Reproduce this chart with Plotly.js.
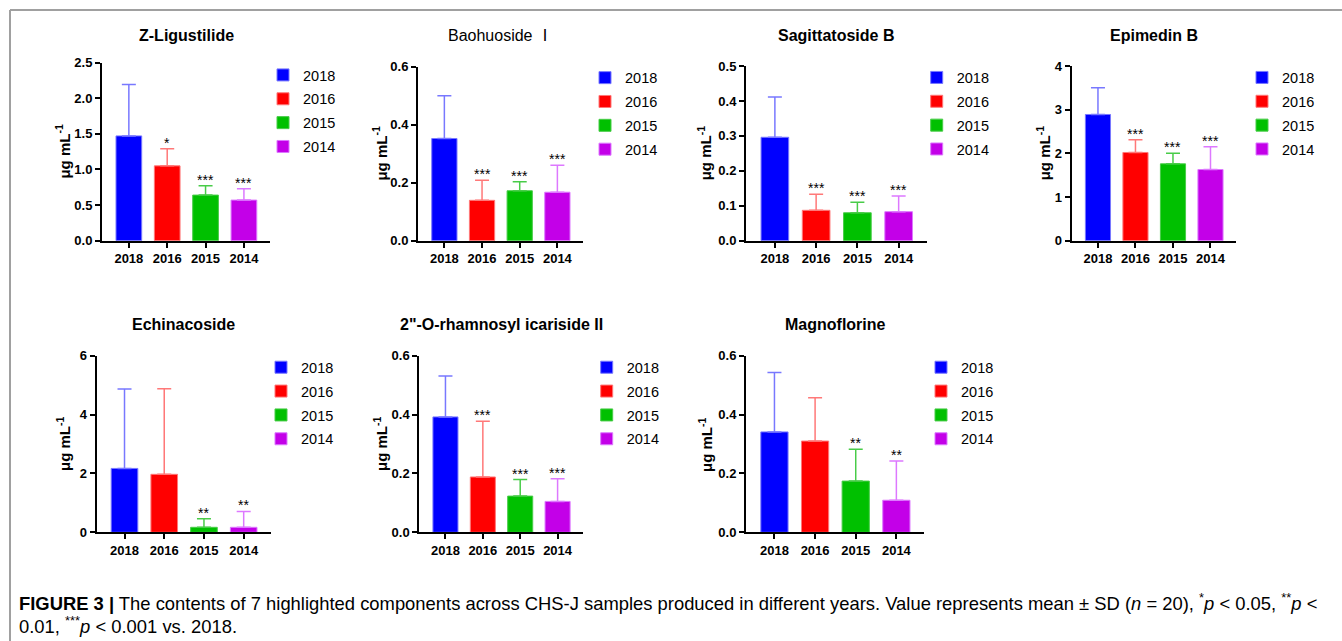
<!DOCTYPE html>
<html><head><meta charset="utf-8">
<script src="https://cdn.plot.ly/plotly-3.0.1.min.js"></script>
<style>html,body{margin:0;padding:0;background:#fff;}#chart{width:1342px;height:641px;}</style>
</head><body><div id="chart"></div>
<script>
// ---------------- data ----------------
const years = ['2018', '2016', '2015', '2014'];
const panelTitles = ['Z-Ligustilide', 'Baohuoside \u2160', 'Sagittatoside B', 'Epimedin B',
  'Echinacoside', '2"-O-rhamnosyl icariside II', 'Magnoflorine'];

const zLigustilideMean = [1.47, 1.05, 0.64, 0.57];
const zLigustilideSD   = [0.72, 0.24, 0.13, 0.16];
const zLigustilideSig  = ['', '*', '***', '***'];

const baohuosideMean = [0.352, 0.139, 0.172, 0.167];
const baohuosideSD   = [0.147, 0.069, 0.031, 0.093];
const baohuosideSig  = ['', '***', '***', '***'];

const sagittatosideMean = [0.296, 0.087, 0.080, 0.083];
const sagittatosideSD   = [0.115, 0.046, 0.030, 0.045];
const sagittatosideSig  = ['', '***', '***', '***'];

const epimedinMean = [2.89, 2.02, 1.76, 1.63];
const epimedinSD   = [0.61, 0.29, 0.24, 0.52];
const epimedinSig  = ['', '***', '***', '***'];

const echinacosideMean = [2.17, 1.97, 0.17, 0.17];
const echinacosideSD   = [2.70, 2.91, 0.29, 0.54];
const echinacosideSig  = ['', '', '**', '**'];

const icarisideMean = [0.392, 0.188, 0.123, 0.105];
const icarisideSD   = [0.139, 0.189, 0.056, 0.077];
const icarisideSig  = ['', '***', '***', '***'];

const magnoflorineMean = [0.341, 0.310, 0.174, 0.109];
const magnoflorineSD   = [0.202, 0.147, 0.108, 0.133];
const magnoflorineSig  = ['', '', '**', '**'];

const yMax  = [2.5, 0.6, 0.5, 4, 6, 0.6, 0.6];
const yStep = [0.5, 0.2, 0.1, 1, 2, 0.2, 0.2];
const yFmt  = ['.1f', '.1f', '.1f', 'd', 'd', '.1f', '.1f'];

const yTitle = 'μg mL<sup>-1</sup>';
const captionLine1 = '<b>FIGURE 3 |</b> The contents of 7 highlighted components across CHS-J samples produced in different years. Value represents mean ± SD (<i>n</i> = 20), <sup>*</sup><i>p</i> &lt; 0.05, <sup>**</sup><i>p</i> &lt;';
const captionLine2 = '0.01, <sup>***</sup><i>p</i> &lt; 0.001 vs. 2018.';

const means = [zLigustilideMean, baohuosideMean, sagittatosideMean, epimedinMean, echinacosideMean, icarisideMean, magnoflorineMean];
const sds   = [zLigustilideSD, baohuosideSD, sagittatosideSD, epimedinSD, echinacosideSD, icarisideSD, magnoflorineSD];
const sigs  = [zLigustilideSig, baohuosideSig, sagittatosideSig, epimedinSig, echinacosideSig, icarisideSig, magnoflorineSig];

// ---------------- style / layout ----------------
const W = 1342, H = 641;
const FONT = 'Liberation Sans, Arial, Helvetica, Noto Sans CJK SC, sans-serif';
const barColors = ['#0000FF', '#FF0000', '#00C000', '#C300E8'];
const errColors = ['#7878FF', '#FF7878', '#48CC48', '#DD78FF'];
// [left, right, top, bottom] of each plot area in px
const geom = [[102, 270, 62.5, 240.7], [418, 583, 66.5, 240.7], [746, 926.7, 66, 240.7], [1071.7, 1236, 66, 240.7],
              [96.7, 270.7, 355.7, 532.3], [419.3, 583, 355.7, 532.3], [746, 924, 355.7, 532.3]];
// legend: symbol left px, first row center px
const legPos = [[277, 75], [599, 77.7], [930.7, 77.5], [1256, 77.5], [275, 367.3], [600.7, 367.3], [935, 367.3]];
const titleY = [35, 36, 36, 36, 325, 325, 325];
// y-axis title centre x (px)
const yTitleX = [63, 380, 704, 1043, 63, 380, 705];

const traces = [];
const layout = {
  width: W, height: H,
  margin: {l: 0, r: 0, t: 0, b: 0},
  paper_bgcolor: '#fff', plot_bgcolor: 'rgba(0,0,0,0)',
  font: {family: FONT, color: '#000'},
  barmode: 'overlay',
  hovermode: false,
  annotations: [],
  shapes: [
    {type: 'line', xref: 'paper', yref: 'paper', x0: 10 / W, x1: 1, y0: 1 - 10 / H, y1: 1 - 10 / H, line: {color: '#a0a0a0', width: 2}},
    {type: 'line', xref: 'paper', yref: 'paper', x0: 10 / W, x1: 10 / W, y0: 0, y1: 1 - 10 / H, line: {color: '#a0a0a0', width: 2}}
  ]
};

for (let p = 0; p < 7; p++) {
  const n = p + 1;
  const xk = n === 1 ? 'x' : 'x' + n;
  const yk = n === 1 ? 'y' : 'y' + n;
  const lk = n === 1 ? 'legend' : 'legend' + n;
  const [L, R, T, B] = geom[p];
  layout['xaxis' + (n === 1 ? '' : n)] = {
    domain: [L / W, R / W], anchor: yk, type: 'category',
    categoryorder: 'array', categoryarray: years,
    range: [-0.7, 3.68],
    showline: true, linecolor: '#000', linewidth: 2,
    ticks: 'outside', ticklen: 5, tickwidth: 2, tickcolor: '#000',
    tickfont: {family: FONT, size: 13, weight: 'bold', color: '#000'},
    showgrid: false, zeroline: false, fixedrange: true, automargin: false
  };
  layout['yaxis' + (n === 1 ? '' : n)] = {
    domain: [1 - B / H, 1 - T / H], anchor: xk,
    range: [0, yMax[p]], dtick: yStep[p], tick0: 0, tickformat: yFmt[p],
    showline: true, linecolor: '#000', linewidth: 2,
    ticks: 'outside', ticklen: 5, tickwidth: 2, tickcolor: '#000',
    tickfont: {family: FONT, size: 13, weight: 'bold', color: '#000'},
    showgrid: false, zeroline: false, fixedrange: true, automargin: false
  };
  layout[lk] = {
    x: (legPos[p][0] - 14) / W, xanchor: 'left',
    y: 1 - (legPos[p][1] - 16) / H, yanchor: 'top',
    font: {family: FONT, size: 14.5, color: '#000'},
    bgcolor: 'rgba(0,0,0,0)', borderwidth: 0,
    traceorder: 'grouped', tracegroupgap: 2
  };
  for (let j = 0; j < 4; j++) {
    traces.push({
      type: 'bar', name: years[j], x: [years[j]], y: [means[p][j]],
      xaxis: xk, yaxis: yk, legend: lk, legendgroup: 'g' + p + '_' + j,
      width: 0.67,
      marker: {color: barColors[j], line: {color: errColors[j], width: 1}},
      error_y: {type: 'data', symmetric: false, array: [sds[p][j]], arrayminus: [0],
                color: errColors[j], thickness: 1.5, width: 7},
      hoverinfo: 'skip'
    });
    if (sigs[p][j]) {
      layout.annotations.push({
        xref: xk, yref: yk, x: j, y: means[p][j] + sds[p][j],
        text: sigs[p][j], showarrow: false, yanchor: 'bottom', xanchor: 'center',
        font: {family: FONT, size: 14, color: '#000'}, yshift: -4
      });
    }
  }
  // panel title
  layout.annotations.push({
    xref: xk + ' domain', yref: 'paper', x: 0.5, y: 1 - titleY[p] / H,
    xanchor: 'center', yanchor: 'middle', showarrow: false,
    text: panelTitles[p],
    font: {family: FONT, size: 16, weight: p === 1 ? 'normal' : 'bold', color: '#000'}
  });
  // y-axis title
  layout.annotations.push({
    xref: 'paper', yref: yk + ' domain', x: yTitleX[p] / W, y: 0.5,
    xanchor: 'center', yanchor: 'middle', showarrow: false, textangle: -90,
    text: yTitle,
    font: {family: FONT, size: 15, weight: 'bold', color: '#000'}
  });
}

layout.annotations.push({
  xref: 'paper', yref: 'paper', x: 17 / W, y: 1 - 601.5 / H, xanchor: 'left', yanchor: 'middle',
  showarrow: false, text: captionLine1, font: {family: FONT, size: 18.4, color: '#000'}
});
layout.annotations.push({
  xref: 'paper', yref: 'paper', x: 17 / W, y: 1 - 624.5 / H, xanchor: 'left', yanchor: 'middle',
  showarrow: false, text: captionLine2, font: {family: FONT, size: 18.4, color: '#000'}
});

Plotly.newPlot('chart', traces, layout, {displayModeBar: false, staticPlot: true});
</script>
</body></html>
